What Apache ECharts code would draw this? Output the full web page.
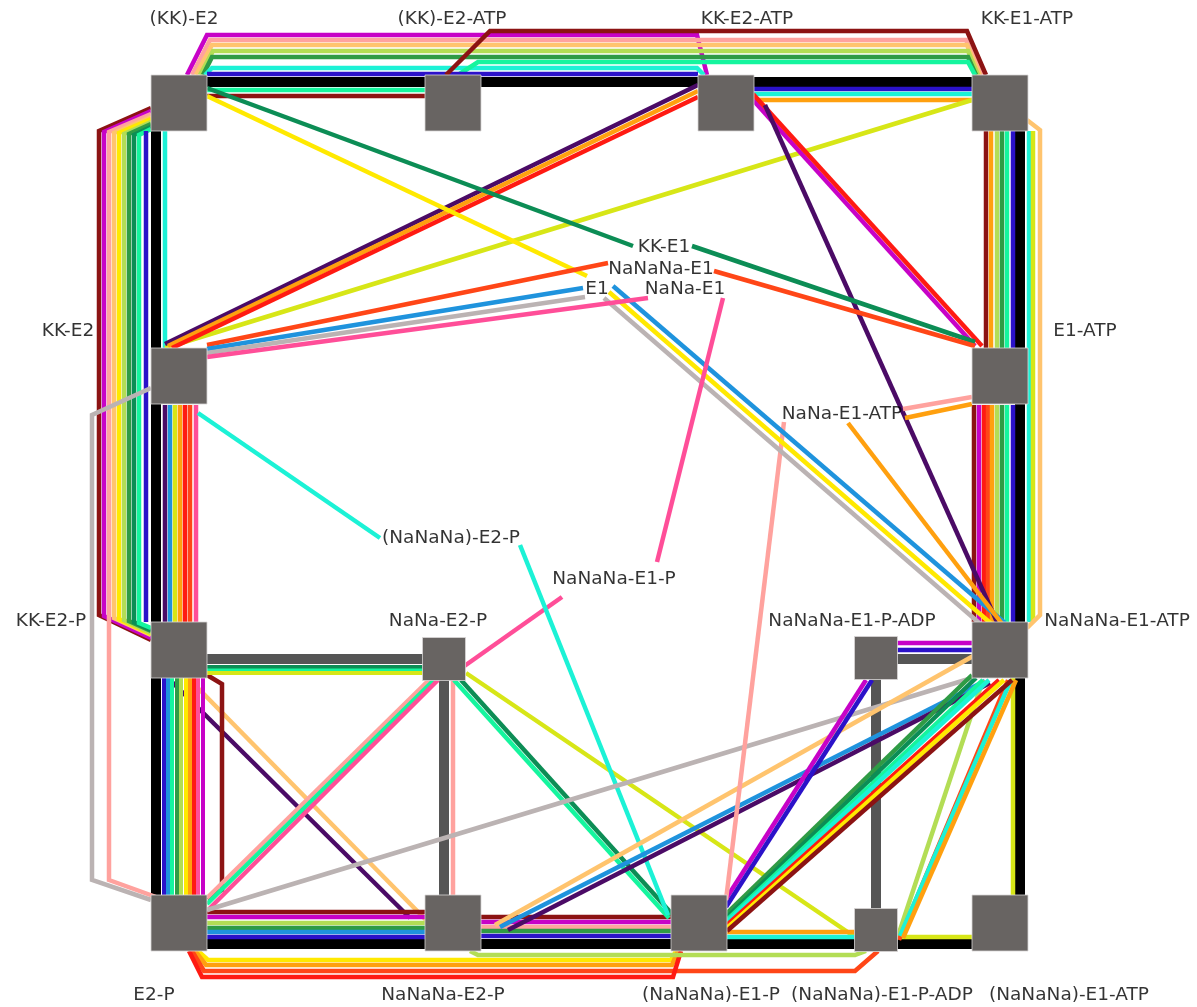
<!DOCTYPE html>
<html>
<head>
<meta charset="utf-8">
<script src="https://cdn.jsdelivr.net/npm/echarts@6/dist/echarts.min.js"></script>
<style>
  html, body { margin: 0; padding: 0; background: #fff; }
  #main { width: 1197px; height: 1007px; }
</style>
</head>
<body>
<div id="main"></div>
<script>
// state nodes (drawn as grey squares)
const nodeNames = ['(KK)-E2', '(KK)-E2-ATP', 'KK-E2-ATP', 'KK-E1-ATP', 'KK-E2', 'E1-ATP',
  'KK-E2-P', 'NaNa-E2-P', 'NaNaNa-E1-P-ADP', 'NaNaNa-E1-ATP',
  'E2-P', 'NaNaNa-E2-P', '(NaNaNa)-E1-P', '(NaNaNa)-E1-P-ADP', '(NaNaNa)-E1-ATP']
const nodeX = [179, 453, 726, 1000, 179, 1000, 179, 444, 876, 1000, 179, 453, 699, 876, 1000]
const nodeY = [103, 103, 103, 103, 376, 376, 650, 659, 658, 650, 923, 923, 923, 930, 923]
const nodeSize = [56, 56, 56, 56, 56, 56, 56, 43, 43, 56, 56, 56, 56, 43, 56]

// text labels (node names + intermediate states)
const labelText = ['(KK)-E2', '(KK)-E2-ATP', 'KK-E2-ATP', 'KK-E1-ATP', 'KK-E2', 'E1-ATP',
  'KK-E2-P', 'NaNa-E2-P', 'NaNaNa-E1-P-ADP', 'NaNaNa-E1-ATP',
  'E2-P', 'NaNaNa-E2-P', '(NaNaNa)-E1-P', '(NaNaNa)-E1-P-ADP', '(NaNaNa)-E1-ATP',
  'KK-E1', 'NaNaNa-E1', 'E1', 'NaNa-E1', 'NaNa-E1-ATP', '(NaNaNa)-E2-P', 'NaNaNa-E1-P']
const labelX = [184, 452, 747, 1027, 68, 1085, 51, 438, 852, 1117, 154, 443, 711, 882, 1069,
  664, 661, 597, 685, 842, 451, 614]
const labelY = [19, 19, 19, 19, 331, 331, 621, 621, 621, 621, 995, 995, 995, 995, 995,
  247, 269, 289, 289, 414, 538, 579]

const palette = {
  K: '#000000', NV: '#2b12c9', SK: '#1f93dd', CY: '#1cf2d6', SP: '#15f59e', GR: '#2f9b45',
  DG: '#0c8d55', LM: '#b3dd55', YE: '#ffe900', CH: '#d7e617', OR: '#ffa00f', LO: '#ffc46e',
  RD: '#ff1a12', OE: '#ff4617', PK: '#ff4e98', SA: '#ffa29e', MG: '#c702c7', MR: '#8c1313',
  PU: '#4b0b66', GY: '#bbb3b3', DK: '#555555'
}

// transition routes: [colour, width, waypoints]
const routes = [
  ['PU', 4.5, [[170, 680], [410, 918]]],
  ['LO', 4.5, [[190, 680], [428, 922]]],
  // outer black ring
  ['K', 10, [[179, 82], [1000, 82]]],
  ['K', 10, [[156, 103], [156, 923]]],
  ['K', 10, [[1020, 103], [1020, 923]]],
  ['K', 10, [[179, 944], [1000, 944]]],
  // grey connectors
  ['DK', 10, [[179, 659], [444, 659]]],
  ['DK', 10, [[444, 659], [444, 923]]],
  ['DK', 10, [[876, 659], [1000, 659]]],
  ['DK', 10, [[876, 658], [876, 930]]],
  // top bundle
  ['MG', 4.5, [[187, 75], [207, 35], [697, 35], [707, 75]]],
  ['SA', 4.5, [[192, 75], [210, 40], [966, 40], [982, 75]]],
  ['LO', 4.5, [[196, 75], [212, 45], [967, 45], [980, 75]]],
  ['LM', 4.5, [[200, 75], [213, 51], [968, 51], [978, 75]]],
  ['GR', 4.5, [[203, 75], [212, 57], [968, 57], [976, 75]]],
  ['CY', 4.5, [[205, 75], [212, 68], [697, 68], [704, 75]]],
  ['SP', 4.5, [[458, 75], [478, 62], [968, 62], [975, 75]]],
  ['NV', 4.5, [[207, 74], [698, 74]]],
  ['SP', 4.5, [[207, 90], [426, 90]]],
  ['MR', 4.5, [[207, 96], [426, 96]]],
  ['MR', 4.5, [[446, 75], [490, 31], [967, 31], [986, 75]]],
  ['NV', 4.5, [[753, 89], [972, 89]]],
  ['CY', 4.5, [[753, 94], [972, 94]]],
  ['OR', 4.5, [[753, 100], [972, 100]]],
  // left bundle (KK)-E2 -> KK-E2-P
  ['MR', 4.5, [[151, 108], [99, 131], [99, 615], [151, 640]]],
  ['MG', 4.5, [[151, 111], [104, 132], [104, 616], [151, 638]]],
  ['SA', 4.5, [[151, 114], [109, 132], [109, 880], [156, 897]]],
  ['LO', 4.5, [[151, 117], [114, 133], [114, 618], [151, 635]]],
  ['YE', 4.5, [[151, 119], [119, 133], [119, 619], [151, 634]]],
  ['LM', 4.5, [[151, 122], [124, 134], [124, 620], [151, 633]]],
  ['GR', 4.5, [[151, 124], [129, 134], [129, 621], [151, 631]]],
  ['DG', 4.5, [[151, 127], [134, 135], [134, 622], [151, 630]]],
  ['SP', 4.5, [[151, 129], [139, 135], [139, 623], [151, 628]]],
  ['NV', 4.5, [[146, 131], [146, 622]]],
  ['CY', 4.5, [[165, 131], [165, 348]]],
  ['GY', 4.5, [[151, 388], [92, 415], [92, 880], [151, 900]]],
  // KK-E2 -> KK-E2-P (right of black)
  ['PU', 4.5, [[165, 405], [165, 622]]],
  ['SK', 4.5, [[170, 405], [170, 622]]],
  ['CH', 4.5, [[175, 405], [175, 622]]],
  ['OR', 4.5, [[180, 405], [180, 622]]],
  ['RD', 4.5, [[185, 405], [185, 622]]],
  ['OE', 4.5, [[190, 405], [190, 622]]],
  ['PK', 4.5, [[196, 405], [196, 622]]],
  // KK-E2-P -> E2-P
  ['NV', 4, [[164, 678], [164, 897]]],
  ['SK', 4, [[168, 678], [168, 897]]],
  ['SP', 4, [[172, 678], [172, 897]]],
  ['GR', 4, [[177, 678], [177, 897]]],
  ['LM', 4, [[181, 678], [181, 897]]],
  ['YE', 4, [[186, 678], [186, 897]]],
  ['OR', 4, [[190, 678], [190, 897]]],
  ['RD', 4, [[194, 678], [194, 897]]],
  ['PK', 4, [[198, 678], [198, 897]]],
  ['MG', 4, [[203, 678], [203, 897]]],
  ['MR', 4.5, [[207, 675], [222, 684], [222, 890], [207, 898]]],
  // bottom E2-P -> NaNaNa-E2-P
  ['MR', 4.5, [[207, 912], [426, 912]]],
  ['MG', 4.5, [[207, 917], [426, 917]]],
  ['LM', 4.5, [[207, 923], [426, 923]]],
  ['GR', 4.5, [[207, 928], [426, 928]]],
  ['SK', 4.5, [[207, 932], [426, 932]]],
  ['NV', 4.5, [[207, 937], [426, 937]]],
  // NaNaNa-E2-P -> (NaNaNa)-E1-P
  ['MR', 4.5, [[481, 917], [671, 917]]],
  ['MG', 4.5, [[481, 922], [671, 922]]],
  ['SA', 4.5, [[481, 927], [671, 927]]],
  ['GR', 4.5, [[481, 931], [671, 931]]],
  ['NV', 4.5, [[481, 936], [671, 936]]],
  // loops under the bottom row
  ['YE', 4.5, [[198, 951], [208, 960], [671, 960], [676, 951]]],
  ['OR', 4.5, [[195, 951], [206, 965], [672, 965], [678, 951]]],
  ['OE', 4.5, [[192, 951], [204, 971], [855, 971], [878, 951]]],
  ['RD', 4.5, [[189, 951], [202, 977], [673, 977], [681, 951]]],
  ['LM', 4.5, [[470, 951], [478, 955], [855, 955], [866, 951]]],
  // E2-P <-> NaNa-E2-P
  ['SA', 4.5, [[207, 898], [430, 679]]],
  ['SP', 4.5, [[207, 904], [434, 680]]],
  ['PK', 4.5, [[207, 911], [438, 680]]],
  ['PK', 4.5, [[463, 667], [562, 597]]],
  // KK-E2-P -> NaNa-E2-P
  ['DG', 4, [[207, 667], [423, 667]]],
  ['SP', 3, [[207, 670], [423, 670]]],
  ['CH', 4, [[207, 673], [423, 673]]],
  ['SA', 4.5, [[453, 680], [453, 896]]],
  ['SP', 4.5, [[454, 680], [669, 918]]],
  ['DG', 4.5, [[461, 680], [672, 914]]],
  ['CH', 4.5, [[466, 673], [855, 937]]],
  // (NaNaNa)-E2-P
  ['CY', 4.5, [[198, 413], [380, 538]]],
  ['CY', 4.5, [[520, 545], [668, 915]]],
  ['GY', 4.5, [[207, 910], [972, 678]]],
  // NaNaNa-E2-P -> NaNaNa-E1-ATP
  ['LO', 4.5, [[495, 925], [975, 655]]],
  ['SK', 4.5, [[500, 927], [985, 681]]],
  ['PU', 4.5, [[508, 930], [990, 683]]],
  // (NaNaNa)-E1-P -> (NaNaNa)-E1-P-ADP -> (NaNaNa)-E1-ATP
  ['OR', 4.5, [[727, 932], [855, 932]]],
  ['CY', 4.5, [[727, 937], [855, 937]]],
  ['CH', 4.5, [[897, 937], [972, 937]]],
  ['CH', 4.5, [[1013, 678], [1013, 896]]],
  ['LM', 4.5, [[898, 936], [983, 680]]],
  ['OE', 4.5, [[899, 940], [1008, 680]]],
  ['CY', 4.5, [[900, 936], [1011, 680]]],
  ['OR', 4.5, [[903, 938], [1016, 680]]],
  // (NaNaNa)-E1-P fan
  ['MG', 4.5, [[722, 905], [866, 680]]],
  ['NV', 4.5, [[726, 907], [872, 680]]],
  ['GR', 4.5, [[726, 914], [972, 675]]],
  ['DG', 4.5, [[727, 917], [976, 678]]],
  ['SP', 4.5, [[727, 920], [983, 680]]],
  ['CY', 4.5, [[727, 922], [989, 680]]],
  ['RD', 4.5, [[727, 925], [999, 680]]],
  ['YE', 4.5, [[727, 928], [1004, 680]]],
  ['MR', 4.5, [[727, 931], [1012, 680]]],
  ['MG', 4.5, [[897, 643], [972, 643]]],
  ['NV', 4.5, [[897, 650], [972, 650]]],
  ['SA', 4.5, [[726, 900], [784, 422]]],
  // right side KK-E1-ATP -> E1-ATP
  ['MR', 4.5, [[986, 131], [986, 348]]],
  ['OR', 4.5, [[991, 131], [991, 348]]],
  ['LM', 4.5, [[997, 131], [997, 348]]],
  ['GR', 4.5, [[1002, 131], [1002, 348]]],
  ['SP', 4.5, [[1007, 131], [1007, 348]]],
  ['NV', 4.5, [[1013, 131], [1013, 348]]],
  // E1-ATP -> NaNaNa-E1-ATP
  ['MR', 4.5, [[974, 405], [974, 622]]],
  ['MG', 4.5, [[979, 405], [979, 622]]],
  ['RD', 4.5, [[984, 405], [984, 622]]],
  ['OE', 4.5, [[988, 405], [988, 622]]],
  ['OR', 4.5, [[992, 405], [992, 622]]],
  ['LM', 4.5, [[997, 405], [997, 622]]],
  ['GR', 4.5, [[1002, 405], [1002, 622]]],
  ['SP', 4.5, [[1007, 405], [1007, 622]]],
  ['NV', 4.5, [[1013, 405], [1013, 622]]],
  ['CY', 4.5, [[1029, 131], [1029, 622]]],
  ['CH', 4.5, [[1033, 131], [1033, 622]]],
  ['LO', 4.5, [[1027, 120], [1040, 130], [1040, 615], [1027, 628]]],
  // long diagonals
  ['CH', 4.5, [[972, 100], [165, 348]]],
  ['PU', 4.5, [[698, 85], [165, 344]]],
  ['OR', 4.5, [[698, 91], [168, 346]]],
  ['RD', 4.5, [[698, 97], [172, 348]]],
  ['MG', 4.5, [[753, 100], [975, 346]]],
  ['RD', 4.5, [[753, 94], [982, 346]]],
  ['PU', 4.5, [[765, 105], [997, 622]]],
  ['DG', 4.5, [[207, 88], [633, 246]]],
  ['DG', 4.5, [[692, 246], [975, 342]]],
  ['YE', 4.5, [[207, 96], [587, 276]]],
  ['YE', 4.5, [[609, 292], [995, 627]]],
  ['SK', 4.5, [[613, 286], [1005, 623]]],
  ['GY', 4.5, [[604, 298], [985, 628]]],
  ['OE', 4.5, [[207, 345], [608, 263]]],
  ['SK', 4.5, [[207, 349], [583, 288]]],
  ['GY', 4.5, [[207, 353], [585, 297]]],
  ['PK', 4.5, [[207, 357], [648, 298]]],
  ['PK', 4.5, [[723, 298], [657, 562]]],
  ['OE', 4.5, [[714, 271], [975, 346]]],
  ['OR', 4.5, [[848, 423], [1003, 625]]],
  ['SA', 4.5, [[903, 409], [972, 397]]],
  ['OR', 4.5, [[905, 418], [972, 404]]]
]

const chart = echarts.init(document.getElementById('main'))
const option = {
  animation: false,
  backgroundColor: '#fff',
  grid: { left: 0, right: 0, top: 0, bottom: 0 },
  xAxis: { type: 'value', min: 0, max: 1197, show: false },
  yAxis: { type: 'value', min: 0, max: 1007, inverse: true, show: false },
  series: [
    {
      type: 'lines',
      coordinateSystem: 'cartesian2d',
      polyline: true,
      silent: true,
      z: 2,
      lineStyle: { opacity: 1, cap: 'butt', join: 'miter' },
      data: routes.map(r => ({
        coords: r[2],
        lineStyle: { color: palette[r[0]], width: r[1], opacity: 1 }
      }))
    },
    {
      type: 'scatter',
      z: 5,
      symbol: 'rect',
      silent: true,
      data: nodeNames.map((n, i) => ({ name: n, value: [nodeX[i], nodeY[i]], symbolSize: nodeSize[i] })),
      itemStyle: { color: '#686462', borderColor: '#d8d6d5', borderWidth: 0.8, opacity: 1 }
    },
    {
      type: 'scatter',
      z: 6,
      silent: true,
      symbolSize: 1,
      itemStyle: { color: 'rgba(0,0,0,0)' },
      data: labelText.map((t, i) => ({ name: t, value: [labelX[i], labelY[i]] })),
      label: {
        show: true,
        position: 'inside',
        formatter: p => p.name,
        color: '#000',
        fontSize: 18.5,
        fontFamily: 'DejaVu Sans'
      }
    }
  ]
}
chart.setOption(option)
</script>
</body>
</html>
